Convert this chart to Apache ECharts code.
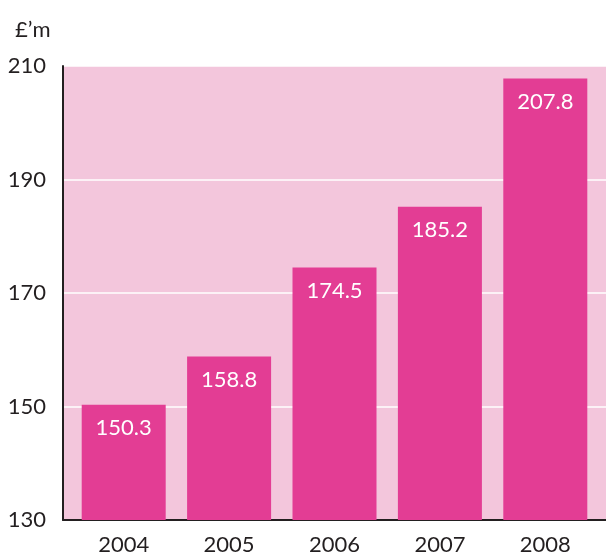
<!DOCTYPE html>
<html>
<head>
<meta charset="utf-8">
<script src="https://cdn.jsdelivr.net/npm/echarts@6/dist/echarts.min.js"></script>
<style>
  html, body { margin: 0; padding: 0; background: #fff; }
  #main { width: 606px; height: 557px; }
</style>
</head>
<body>
<div id="main"></div>
<script>
// data
var years = ['2004', '2005', '2006', '2007', '2008'];
var spend = [150.3, 158.8, 174.5, 185.2, 207.8];
var yMin = 130, yMax = 210, yStep = 20;

var chart = echarts.init(document.getElementById('main'));
var font = 'Lato';

var option = {
  animation: false,
  title: {
    text: '£’m',
    left: 10,
    top: 14,
    textStyle: { fontFamily: font, fontSize: 22, fontWeight: 'normal', color: '#231f20' }
  },
  grid: [
    // background grid: pink panel, gridlines, axis lines
    { left: 63, right: 0, top: 66, bottom: 37, show: true, backgroundColor: '#f3c6dc', borderWidth: 0 },
    // bar grid, slightly inset
    { left: 71, right: 8, top: 66, bottom: 37 }
  ],
  xAxis: [
    {
      gridIndex: 0, type: 'value', min: 0, max: 1,
      axisLine: { show: true, onZero: false, lineStyle: { color: '#231f20', width: 2 } },
      axisTick: { show: false }, axisLabel: { show: false }, splitLine: { show: false }
    },
    {
      gridIndex: 1, type: 'category', data: years,
      axisLine: { show: false }, axisTick: { show: false },
      axisLabel: { margin: 14, fontFamily: font, fontSize: 22, color: '#231f20' }
    }
  ],
  yAxis: [
    {
      gridIndex: 0, type: 'value', min: yMin, max: yMax, interval: yStep,
      axisLine: { show: true, lineStyle: { color: '#231f20', width: 2 } },
      axisTick: { show: false },
      axisLabel: { margin: 17, fontFamily: font, fontSize: 22, color: '#231f20' },
      splitLine: { show: true, lineStyle: { color: '#ffffff', width: 1.5 } }
    },
    {
      gridIndex: 1, type: 'value', min: yMin, max: yMax, interval: yStep, show: false,
      splitLine: { show: false }
    }
  ],
  series: [{
    type: 'bar',
    xAxisIndex: 1,
    yAxisIndex: 1,
    data: spend,
    barWidth: 84,
    itemStyle: { color: '#e33d94' },
    label: {
      show: true,
      position: 'insideTop',
      distance: 12,
      fontFamily: font,
      fontSize: 22,
      color: '#ffffff',
      formatter: function (p) { return p.value.toFixed(1); }
    }
  }]
};

chart.setOption(option);
</script>
</body>
</html>
